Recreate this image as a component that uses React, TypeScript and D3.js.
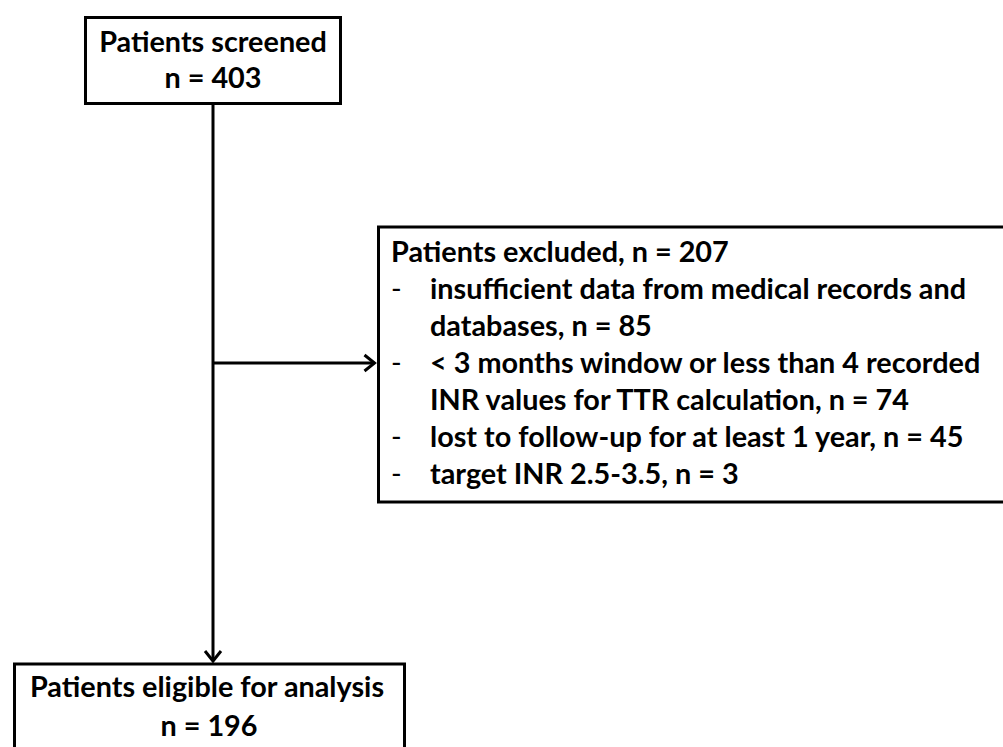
import React from "react";
import * as d3 from "d3";

// flow counts
const screenedLabel = "Patients screened";
const screenedN = 403;
const excludedLabel = "Patients excluded";
const excludedN = 207;
const eligibleLabel = "Patients eligible for analysis";
const eligibleN = 196;

// exclusion reasons, already wrapped as in the figure
const reasonLines = [
  ["insufficient data from medical records and", "databases"],
  ["< 3 months window or less than 4 recorded", "INR values for TTR calculation"],
  ["lost to follow-up for at least 1 year"],
  ["target INR 2.5-3.5"],
];
const reasonCounts = [85, 74, 45, 3];

const W = 1003;
const H = 747;
const FONT = "Lato, 'Open Sans', sans-serif";
const FS = 28.8;
const SW = 3;

const App: React.FC = () => {
  // build text rows of the exclusion box
  const rows: { text: string; bullet: boolean; header: boolean }[] = [
    { text: `${excludedLabel}, n = ${excludedN}`, bullet: false, header: true },
  ];
  reasonLines.forEach((lines, i) => {
    lines.forEach((l, j) => {
      const last = j === lines.length - 1;
      rows.push({
        text: last ? `${l}, n = ${reasonCounts[i]}` : l,
        bullet: j === 0,
        header: false,
      });
    });
  });

  // row index -> baseline
  const rowY = d3.scaleLinear().domain([0, 1]).range([262, 299]);

  const topBox = { x: 85.5, y: 17.5, w: 255, h: 86 };
  const exBox = { x: 378.5, y: 227, w: 640, h: 275 };
  const botBox = { x: 14.5, y: 664, w: 390, h: 120 };
  const trunkX = 213;
  const branchY = 363;

  const arrowDown = (x: number, y: number) =>
    d3.line()([
      [x - 8, y - 10],
      [x, y],
      [x + 8, y - 10],
    ]) as string;
  const arrowRight = (x: number, y: number) =>
    d3.line()([
      [x - 10, y - 8],
      [x, y],
      [x - 10, y + 8],
    ]) as string;

  const textStyle = {
    fontFamily: FONT,
    fontWeight: 700,
    fontSize: FS,
    fill: "#000",
  } as React.CSSProperties;

  return (
    <div style={{ position: "absolute", left: 0, top: 0 }}>
      <svg width={W} height={H} style={{ display: "block", background: "#fff" }}>
        {/* connectors */}
        <g stroke="#000" strokeWidth={SW} fill="none">
          <line x1={trunkX} x2={trunkX} y1={topBox.y + topBox.h} y2={botBox.y - 3} />
          <path d={arrowDown(trunkX, botBox.y - 3)} strokeLinejoin="miter" />
          <line x1={trunkX} x2={exBox.x - 4} y1={branchY} y2={branchY} />
          <path d={arrowRight(exBox.x - 4, branchY)} strokeLinejoin="miter" />
        </g>

        {/* boxes */}
        <g stroke="#000" strokeWidth={SW} fill="#fff">
          <rect x={topBox.x} y={topBox.y} width={topBox.w} height={topBox.h} />
          <rect x={exBox.x} y={exBox.y} width={exBox.w} height={exBox.h} />
          <rect x={botBox.x} y={botBox.y} width={botBox.w} height={botBox.h} />
        </g>

        {/* top box text */}
        <g style={textStyle} textAnchor="middle">
          <text x={trunkX} y={52}>{screenedLabel}</text>
          <text x={trunkX} y={88}>{`n = ${screenedN}`}</text>
        </g>

        {/* exclusion text */}
        <g style={textStyle}>
          {rows.map((r, i) => (
            <g key={i}>
              {r.bullet && (
                <text x={391} y={rowY(i)} style={{ fontWeight: 400 }}>-</text>
              )}
              <text x={r.header ? 391 : 430} y={rowY(i)}>{r.text}</text>
            </g>
          ))}
        </g>

        {/* bottom box text */}
        <g style={textStyle} textAnchor="middle">
          <text x={207} y={697}>{eligibleLabel}</text>
          <text x={209} y={736}>{`n = ${eligibleN}`}</text>
        </g>
      </svg>
    </div>
  );
};

export default App;
